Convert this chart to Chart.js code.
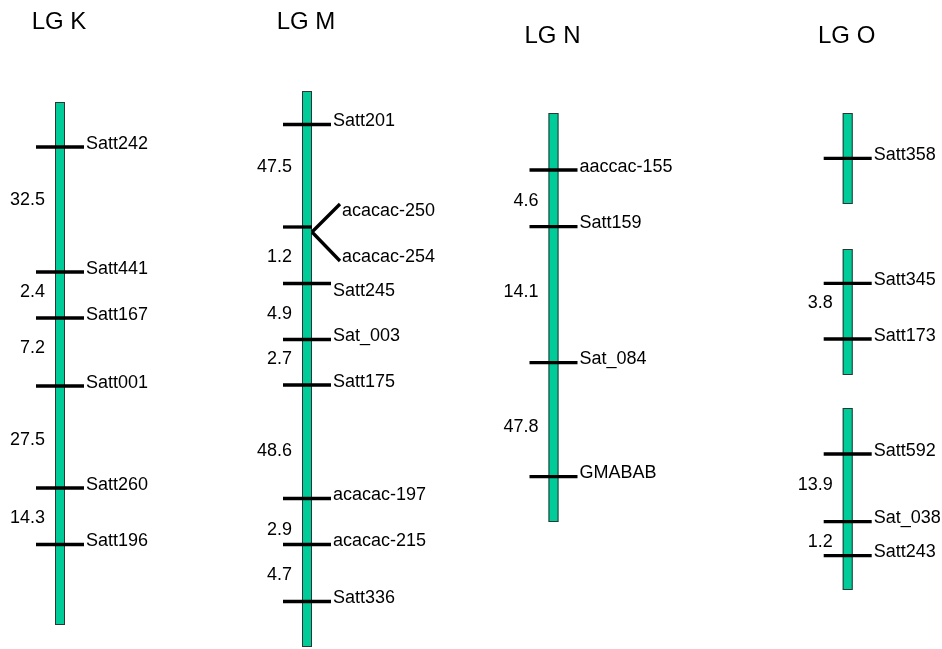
<!DOCTYPE html>
<html>
<head>
<meta charset="utf-8">
<script src="https://cdn.jsdelivr.net/npm/chart.js@4"></script>
<style>
html,body{margin:0;padding:0;background:#fff;}
#wrap{width:942px;height:649px;}
</style>
</head>
<body>
<div id="wrap"><canvas id="c" width="942" height="649"></canvas></div>
<script>
// ---- data (map position on the drawing axis, top = 0) ----
const groupNames = ['LG K', 'LG M', 'LG N', 'LG O'];
const groupX = [60, 307, 553.5, 847.7];

const kMarkers = ['Satt242', 'Satt441', 'Satt167', 'Satt001', 'Satt260', 'Satt196'];
const kPos = [147, 272, 318, 386, 488, 544.5];
const kIntervals = ['32.5', '2.4', '7.2', '27.5', '14.3'];
const kIntervalPos = [198, 290, 346.7, 438.3, 516.7];
const kSegments = [[102, 625]];

const mMarkers = ['Satt201', ['acacac-250', 'acacac-254'], 'Satt245', 'Sat_003', 'Satt175', 'acacac-197', 'acacac-215', 'Satt336'];
const mPos = [124.5, 227, 283.5, 339.5, 385, 498.5, 544.5, 601.5];
const mIntervals = ['47.5', '1.2', '4.9', '2.7', '48.6', '2.9', '4.7'];
const mIntervalPos = [165, 255.7, 312.3, 357.7, 449, 528.3, 573.3];
const mSegments = [[91, 647]];

const nMarkers = ['aaccac-155', 'Satt159', 'Sat_084', 'GMABAB'];
const nPos = [170, 226.7, 362.7, 476.7];
const nIntervals = ['4.6', '14.1', '47.8'];
const nIntervalPos = [199, 290, 425.7];
const nSegments = [[113, 522]];

const oMarkers = ['Satt358', 'Satt345', 'Satt173', 'Satt592', 'Sat_038', 'Satt243'];
const oPos = [158.3, 283.3, 339, 454, 521.7, 555.7];
const oIntervals = [null, '3.8', null, '13.9', '1.2'];
const oIntervalPos = [null, 301.7, null, 483.3, 540];
const oSegments = [[113, 204], [249, 375], [408, 590]];

const groups = [
  { name: groupNames[0], x: groupX[0], markers: kMarkers, pos: kPos, intervals: kIntervals, ipos: kIntervalPos, segments: kSegments },
  { name: groupNames[1], x: groupX[1], markers: mMarkers, pos: mPos, intervals: mIntervals, ipos: mIntervalPos, segments: mSegments },
  { name: groupNames[2], x: groupX[2], markers: nMarkers, pos: nPos, intervals: nIntervals, ipos: nIntervalPos, segments: nSegments },
  { name: groupNames[3], x: groupX[3], markers: oMarkers, pos: oPos, intervals: oIntervals, ipos: oIntervalPos, segments: oSegments }
];

const linkageMapPlugin = {
  id: 'linkageMap',
  afterDatasetsDraw(chart, args, opts) {
    const ctx = chart.ctx;
    const xs = chart.scales.x, ys = chart.scales.y;
    ctx.save();
    groups.forEach((g, gi) => {
      const cx = xs.getPixelForValue(g.x);
      // title
      ctx.fillStyle = '#000';
      ctx.font = opts.titleFont;
      ctx.textAlign = 'center';
      ctx.textBaseline = 'alphabetic';
      ctx.fillText(g.name, cx - 1, ys.getPixelForValue(opts.titleY[gi]));
      // chromosome bars
      g.segments.forEach(s => {
        const y1 = ys.getPixelForValue(s[0]);
        const y2 = ys.getPixelForValue(s[1]);
        ctx.fillStyle = opts.barColor;
        ctx.fillRect(cx - opts.barHalf, y1, opts.barHalf * 2, y2 - y1);
        ctx.strokeStyle = opts.barBorder;
        ctx.lineWidth = 1;
        ctx.strokeRect(cx - opts.barHalf + 0.5, y1 + 0.5, opts.barHalf * 2 - 1, y2 - y1 - 1);
      });
      // markers
      ctx.strokeStyle = '#000';
      ctx.lineWidth = 3.3;
      ctx.font = opts.labelFont;
      ctx.textAlign = 'left';
      ctx.fillStyle = '#000';
      g.markers.forEach((m, i) => {
        const y = ys.getPixelForValue(g.pos[i]);
        if (Array.isArray(m)) {
          const vx = cx + opts.barHalf;
          const vy = y + 5;
          ctx.beginPath();
          ctx.moveTo(cx - opts.tickHalf, y);
          ctx.lineTo(vx, y);
          ctx.stroke();
          ctx.beginPath();
          ctx.moveTo(vx, vy);
          ctx.lineTo(vx + 28, vy - 28);
          ctx.moveTo(vx, vy);
          ctx.lineTo(vx + 28, vy + 29);
          ctx.stroke();
          ctx.fillText(m[0], vx + 30, vy - 16);
          ctx.fillText(m[1], vx + 30, vy + 30);
        } else {
          ctx.beginPath();
          ctx.moveTo(cx - opts.tickHalf, y);
          ctx.lineTo(cx + opts.tickHalf, y);
          ctx.stroke();
          // a label that follows a split marker sits under its tick
          const below = i > 0 && Array.isArray(g.markers[i - 1]);
          ctx.fillText(m, cx + 26, below ? y + 12 : y + 1.5);
        }
      });
      // interval distances
      ctx.textAlign = 'right';
      g.intervals.forEach((d, i) => {
        if (!d) return;
        ctx.fillText(d, cx - opts.barHalf - 10, ys.getPixelForValue(g.ipos[i]) + 6.5);
      });
    });
    ctx.restore();
  }
};

new Chart(document.getElementById('c'), {
  type: 'scatter',
  data: { datasets: [] },
  options: {
    responsive: false,
    animation: false,
    layout: { padding: 0 },
    scales: {
      x: { type: 'linear', min: 0, max: 942, display: false },
      y: { type: 'linear', min: 0, max: 649, reverse: true, display: false }
    },
    plugins: {
      legend: { display: false },
      tooltip: { enabled: false },
      linkageMap: {
        titleY: [29, 29, 43, 43],
        titleFont: '24px "Liberation Sans", Arial, sans-serif',
        labelFont: '18px "Liberation Sans", Arial, sans-serif',
        barColor: '#00CC99',
        barBorder: '#333333',
        barHalf: 5,
        tickHalf: 24
      }
    }
  },
  plugins: [linkageMapPlugin]
});
</script>
</body>
</html>
